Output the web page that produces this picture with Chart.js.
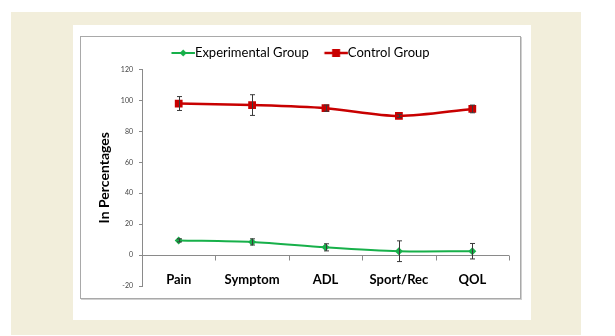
<!DOCTYPE html>
<html><head><meta charset="utf-8">
<script src="https://cdn.jsdelivr.net/npm/chart.js@4/dist/chart.umd.min.js"></script>
<style>
html,body{margin:0;padding:0;background:#fff;width:615px;height:336px;overflow:hidden;}
#beige{position:absolute;left:11px;top:12px;width:570px;height:323px;background:#f2eedb;}
#white{position:absolute;left:73px;top:25px;width:458px;height:295px;background:#fff;}
#frame{position:absolute;left:80px;top:36px;width:439px;height:261px;border:1px solid #a9a9a9;box-shadow:1px 1px 0 #d0d0d0;}
#wrap{position:absolute;left:81px;top:37px;width:439px;height:261px;}
</style></head>
<body>
<div id="beige"></div><div id="white"></div><div id="frame"></div>
<div id="wrap"><canvas id="c" width="439" height="261"></canvas></div>
<script>
const categories = ['Pain', 'Symptom', 'ADL', 'Sport/Rec', 'QOL'];
const seriesNames = ['Experimental Group', 'Control Group'];
const experimental = [9.5, 8.5, 5, 2.5, 2.5];
const experimentalErr = [1, 2, 2.3, 6.7, 5];
const control = [98, 97, 95, 90, 94.5];
const controlErr = [4.5, 6.7, 2, 1, 2.5];
const yMin = -20, yMax = 120, yStep = 20;
const yAxisTitle = 'In Percentages';

const GREEN = '#17b04a', RED = '#c80000';

function legendIcon(color, style, r, lw) {
  const c = document.createElement('canvas');
  c.width = 48; c.height = 14;
  const g = c.getContext('2d');
  g.strokeStyle = color; g.lineWidth = lw;
  g.beginPath(); g.moveTo(15.5, 7); g.lineTo(39, 7); g.stroke();
  g.fillStyle = color;
  const cx = 27.25, cy = 7;
  if (style === 'rect') { g.fillRect(cx - r, cy - r, 2 * r, 2 * r); }
  else { g.beginPath(); g.moveTo(cx, cy - r); g.lineTo(cx + r, cy); g.lineTo(cx, cy + r); g.lineTo(cx - r, cy); g.closePath(); g.fill(); }
  return c;
}
const icons = [legendIcon(GREEN, 'diamond', 3.5, 2), legendIcon(RED, 'rect', 4, 2.5)];

const errorBars = {
  id: 'errorBars',
  afterDatasetsDraw(chart) {
    const ctx = chart.ctx, xs = chart.scales.x, ys = chart.scales.y;
    ctx.save();
    ctx.strokeStyle = '#3a3a3a'; ctx.lineWidth = 1;
    chart.data.datasets.forEach(ds => {
      ds.data.forEach((v, i) => {
        const e = ds.errors[i];
        const x = Math.round(xs.getPixelForValue(i)) + 0.5;
        const yt = ys.getPixelForValue(v + e), yb = ys.getPixelForValue(v - e);
        ctx.beginPath();
        ctx.moveTo(x, yt); ctx.lineTo(x, yb);
        ctx.moveTo(x - 2.5, yt); ctx.lineTo(x + 2.5, yt);
        ctx.moveTo(x - 2.5, yb); ctx.lineTo(x + 2.5, yb);
        ctx.stroke();
      });
    });
    ctx.restore();
  }
};

const zeroAxis = {
  id: 'zeroAxis',
  beforeDatasetsDraw(chart) {
    const ctx = chart.ctx, ys = chart.scales.y, a = chart.chartArea;
    const y0 = Math.round(ys.getPixelForValue(0)) + 0.5;
    const n = categories.length, w = (a.right - a.left) / n;
    ctx.save();
    ctx.strokeStyle = '#8a8a8a'; ctx.lineWidth = 1;
    ctx.beginPath();
    ctx.moveTo(a.left, y0); ctx.lineTo(a.right, y0);
    for (let k = 1; k <= n; k++) {
      const x = Math.round(a.left + k * w) + 0.5;
      ctx.moveTo(x, y0); ctx.lineTo(x, y0 + 5);
    }
    ctx.stroke();
    ctx.restore();
  }
};

new Chart(document.getElementById('c'), {
  type: 'line',
  data: {
    labels: categories,
    datasets: [
      { label: seriesNames[0], data: experimental, errors: experimentalErr,
        borderColor: GREEN, backgroundColor: GREEN, borderWidth: 2,
        pointStyle: 'rectRot', pointRadius: 4, pointBorderWidth: 0, tension: 0.3 },
      { label: seriesNames[1], data: control, errors: controlErr,
        borderColor: RED, backgroundColor: RED, borderWidth: 2.5,
        pointStyle: 'rect', pointRadius: 5.5, pointBorderWidth: 0, tension: 0.3 }
    ]
  },
  options: {
    responsive: false,
    animation: false,
    layout: { padding: { top: -6, left: 11, right: 11, bottom: 0 } },
    plugins: {
      tooltip: { enabled: false },
      legend: {
        position: 'top', align: 'center',
        labels: {
          usePointStyle: true, pointStyleWidth: 17, padding: 15.5,
          font: { family: 'Lato', size: 13 }, color: '#111',
          generateLabels(chart) {
            return chart.data.datasets.map((ds, i) => ({
              text: ds.label, pointStyle: icons[i], fillStyle: ds.borderColor,
              strokeStyle: ds.borderColor, lineWidth: 0, hidden: false, datasetIndex: i
            }));
          }
        }
      }
    },
    scales: {
      x: {
        offset: true,
        grid: { display: false, drawTicks: false },
        border: { display: false },
        ticks: { mirror: true, padding: -1.5, autoSkip: false, maxRotation: 0,
                 font: { family: 'Lato', size: 13, weight: 'bold' }, color: '#000' },
        afterFit(s) { s.height = 12; }
      },
      y: {
        min: yMin, max: yMax,
        ticks: { stepSize: yStep, padding: 6, font: { family: 'Lato', size: 7 }, color: '#444' },
        grid: { drawOnChartArea: false, drawTicks: true, tickLength: 3, color: '#8a8a8a' },
        border: { display: true, color: '#8a8a8a', width: 1 },
        title: { display: true, text: yAxisTitle, padding: { top: 4, bottom: 0 },
                 font: { family: 'Lato', size: 14, weight: 'bold' }, color: '#000' },
        afterFit(s) { s.width = 50; }
      }
    }
  },
  plugins: [zeroAxis, errorBars]
});
</script>
</body></html>
